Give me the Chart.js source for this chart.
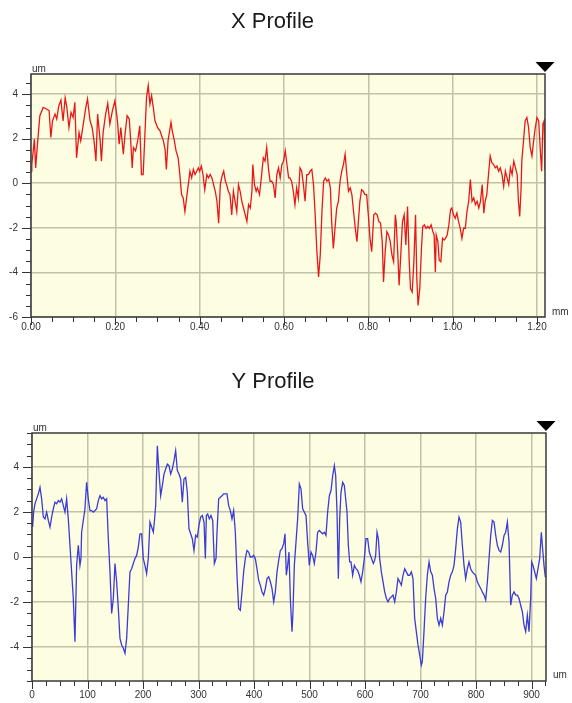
<!DOCTYPE html>
<html><head><meta charset="utf-8">
<script src="https://cdn.jsdelivr.net/npm/chart.js@4"></script>
<style>
html,body{margin:0;padding:0;background:#fff;width:572px;height:703px;overflow:hidden}
canvas{position:absolute;left:0}
#c1{top:0}
#c2{top:350px}
</style></head><body>
<canvas id="c1" width="572" height="350"></canvas>
<canvas id="c2" width="572" height="353"></canvas>
<script>
// ---------- titles & units ----------
const xChartTitle = 'X Profile';
const yChartTitle = 'Y Profile';
const xChartUnits = ['um', 'mm'];   // [vertical, horizontal]
const yChartUnits = ['um', 'um'];

// ---------- X profile (position in mm, height in um) ----------
const xProfileMm = [
0.000,0.002,0.008,0.011,0.016,0.021,0.029,0.037,0.043,0.047,
0.051,0.057,0.061,0.066,0.071,0.076,0.081,0.085,0.090,0.095,
0.100,0.104,0.108,0.114,0.118,0.124,0.130,0.134,0.140,0.145,
0.150,0.154,0.158,0.164,0.167,0.171,0.177,0.182,0.187,0.193,
0.199,0.205,0.209,0.213,0.219,0.223,0.228,0.233,0.237,0.240,
0.243,0.248,0.253,0.258,0.262,0.266,0.270,0.274,0.278,0.282,
0.286,0.290,0.294,0.300,0.306,0.310,0.314,0.318,0.321,0.325,
0.332,0.335,0.340,0.344,0.349,0.353,0.357,0.361,0.365,0.369,
0.373,0.377,0.381,0.385,0.389,0.393,0.397,0.400,0.404,0.408,
0.412,0.417,0.421,0.425,0.429,0.433,0.437,0.441,0.445,0.449,
0.453,0.457,0.461,0.464,0.468,0.472,0.476,0.480,0.484,0.488,
0.492,0.496,0.500,0.504,0.508,0.512,0.516,0.520,0.524,0.526,
0.530,0.534,0.537,0.542,0.547,0.551,0.555,0.559,0.563,0.567,
0.571,0.575,0.579,0.583,0.587,0.591,0.595,0.599,0.603,0.607,
0.611,0.614,0.618,0.622,0.626,0.630,0.634,0.638,0.642,0.646,
0.650,0.654,0.658,0.662,0.666,0.670,0.674,0.678,0.682,0.686,
0.690,0.694,0.698,0.702,0.706,0.710,0.713,0.717,0.721,0.725,
0.729,0.733,0.737,0.741,0.745,0.749,0.753,0.757,0.761,0.765,
0.769,0.773,0.777,0.780,0.784,0.788,0.792,0.796,0.800,0.804,
0.808,0.813,0.817,0.821,0.825,0.829,0.833,0.836,0.840,0.844,
0.848,0.852,0.856,0.860,0.864,0.866,0.870,0.873,0.877,0.881,
0.885,0.889,0.893,0.897,0.900,0.904,0.908,0.912,0.915,0.918,
0.922,0.926,0.929,0.933,0.937,0.941,0.945,0.949,0.953,0.956,
0.959,0.961,0.965,0.968,0.972,0.976,0.980,0.983,0.987,0.991,
0.995,0.998,1.002,1.006,1.010,1.014,1.018,1.022,1.026,1.030,
1.034,1.038,1.042,1.046,1.050,1.054,1.058,1.062,1.066,1.070,
1.074,1.077,1.081,1.085,1.089,1.093,1.097,1.101,1.105,1.109,
1.113,1.117,1.121,1.125,1.129,1.133,1.137,1.141,1.145,1.149,
1.153,1.156,1.159,1.162,1.164,1.168,1.172,1.176,1.180,1.184,
1.188,1.192,1.196,1.200,1.204,1.208,1.211,1.214,1.217,1.219
];
const xProfileUm = [
0.54,0.84,1.97,0.69,1.90,3.03,3.40,3.33,3.25,2.05,
2.80,3.10,2.88,3.48,3.73,2.80,3.83,3.40,2.50,3.18,
2.95,3.63,1.14,2.27,1.90,2.65,3.40,3.78,2.80,2.50,
1.82,0.99,3.10,1.90,0.99,2.27,3.10,3.58,2.65,3.25,
3.70,2.80,1.75,2.50,1.30,2.20,3.03,2.88,1.75,0.69,
1.60,1.45,1.90,2.58,0.39,0.39,2.12,3.86,4.38,3.55,
3.93,3.40,2.80,2.50,2.35,2.12,1.90,1.52,0.62,1.90,
2.73,2.35,1.90,1.45,1.14,0.39,-0.51,-0.66,-1.27,-0.66,
-0.06,0.54,0.24,0.62,0.39,0.54,0.69,0.54,0.77,0.39,
-0.29,0.39,0.24,0.39,0.24,-0.06,-0.36,-0.81,-1.79,-0.06,
0.32,0.54,0.09,-0.06,-0.36,-0.51,-1.42,-0.36,-0.81,-1.27,
-0.06,-0.36,-0.81,-1.11,-1.42,-1.72,-0.96,-1.11,-0.36,0.84,
-0.06,-0.36,-0.21,-0.51,0.39,1.14,0.99,1.60,0.69,0.09,
0.09,-0.06,-0.66,0.39,0.69,0.24,0.84,0.99,1.45,0.84,
0.24,0.24,0.09,-0.36,-0.96,-0.21,-0.66,0.69,0.54,-0.06,
-0.81,0.39,0.39,0.54,0.62,-0.06,-1.42,-3.07,-4.20,-3.22,
-1.27,0.09,0.24,0.09,0.17,-0.21,-1.72,-2.92,-2.02,-1.11,
-0.81,0.09,0.54,0.84,1.30,0.39,-0.36,-0.21,-0.51,-1.27,
-2.02,-2.62,-1.57,-0.81,-0.29,-0.36,-0.51,-0.51,-1.42,-2.47,
-3.07,-1.42,-1.34,-1.42,-1.72,-1.79,-2.62,-4.43,-3.07,-2.17,
-2.32,-2.62,-3.22,-3.52,-1.42,-1.72,-3.22,-4.58,-3.22,-1.72,
-1.42,-2.77,-1.04,-3.52,-4.73,-4.88,-3.52,-1.42,-4.28,-5.48,
-4.73,-2.92,-1.94,-1.87,-2.02,-1.94,-2.02,-1.87,-2.17,-2.32,
-3.98,-2.32,-2.62,-3.45,-3.52,-2.47,-2.55,-2.47,-2.32,-1.87,
-1.19,-1.11,-1.42,-1.57,-1.34,-1.72,-2.02,-2.47,-2.02,-2.02,
-1.27,-0.81,0.17,-0.81,-0.66,-0.96,-0.81,-1.11,-0.81,-0.06,
-1.34,-0.81,-0.51,0.39,1.22,0.92,0.84,0.69,0.77,0.54,
0.69,0.39,-0.14,0.54,0.24,-0.06,0.69,0.39,0.99,0.69,
0.39,-0.81,-1.49,-0.36,0.99,1.90,2.80,2.95,2.50,1.60,
1.22,1.90,2.50,2.95,2.80,1.45,0.54,2.65,2.80,0.60
];

// ---------- Y profile (position in um, height in um) ----------
const yProfilePos = [
0,1.1,2.9,5.3,8.3,11.4,14.4,17.4,20.4,23.4,
26.4,29.4,32.4,35.4,38.4,41.4,44.4,47.4,50.4,53.4,
56.4,59.4,62.4,65.4,68.4,71.4,74.4,77.4,80.4,83.4,
86.4,88.2,89.4,92.4,95.4,98.4,101.4,104.4,107.4,110.5,
113.5,116.5,119.5,122.5,125.5,128.5,131.5,134.5,137.5,140.5,
143.5,146.5,149.5,152.5,155.5,158.5,161.5,164.5,167.5,170.5,
173.5,176.5,179.5,182.5,185.5,188.5,191.5,194.5,197.5,200.5,
203.5,206.5,209.5,212.5,215.5,218.6,220.4,222.8,225.8,228.8,
231.8,234.8,237.8,240.8,243.8,246.8,249.8,252.8,255.8,258.8,
261.8,264.8,267.8,270.8,273.8,276.8,279.8,282.8,285.8,288.8,
291.8,294.8,297.8,300.8,303.8,306.8,309.9,312.3,314.1,316.5,
319.5,322.5,325.5,328.5,331.5,333.3,336.3,339.3,342.3,345.3,
348.3,351.3,354.3,357.3,360.3,363.3,366.3,369.3,372.3,375.3,
378.3,381.3,384.3,387.3,390.3,393.3,396.3,399.3,402.3,405.3,
408.3,411.3,414.4,417.4,420.4,423.4,426.4,429.4,432.4,435.4,
438.4,441.4,444.4,447.4,450.4,453.4,455.8,458.2,460.6,463.0,
465.4,468.4,470.2,472.6,475.6,478.6,481.6,484.6,487.6,490.6,
493.6,496.6,499.6,502.6,505.6,508.6,511.6,514.6,517.6,520.6,
523.6,526.6,529.6,532.6,535.7,538.7,541.7,544.7,547.1,549.5,
551.9,554.3,556.7,559.7,562.7,565.7,567.5,569.9,572.3,574.7,
577.7,580.7,583.7,586.7,589.7,592.7,595.7,598.7,601.7,604.7,
607.7,610.7,614.9,617.3,619.1,621.6,624.0,626.4,629.4,632.4,
635.4,638.4,641.4,644.4,647.4,650.4,653.4,656.4,659.4,662.4,
665.4,668.4,671.4,674.4,677.4,680.4,683.4,686.4,689.4,692.4,
695.4,698.4,701.4,703.2,706.2,709.2,712.2,715.3,718.3,721.3,
724.3,727.3,730.3,733.3,736.3,739.3,742.3,745.3,748.3,751.3,
754.3,757.3,760.3,763.3,766.3,769.3,772.3,775.3,778.3,781.3,
784.3,787.3,790.3,793.3,796.3,799.3,802.3,805.3,808.4,811.4,
814.4,817.4,820.4,823.4,826.4,829.4,832.4,835.4,838.4,841.4,
844.4,847.4,850.4,853.4,856.4,859.4,862.4,865.4,868.4,871.4,
874.4,877.4,880.4,883.4,886.4,889.4,892.4,895.4,898.4,900.2,
902.6,905.6,908.6,911.6,914.6,917.6,919.4,922.4,924.8
];
const yProfileUm = [
1.62,1.33,1.99,2.36,2.58,2.80,3.09,2.58,1.77,1.69,
1.99,1.62,1.33,1.77,2.14,2.43,2.36,2.50,2.43,2.58,
2.28,1.99,2.58,1.69,0.52,-0.66,-1.84,-3.76,-0.37,0.52,
-0.37,-0.07,1.10,1.62,2.14,3.31,2.58,2.06,2.06,1.99,
2.06,2.14,2.50,2.72,2.58,2.65,2.50,2.58,0.81,-0.66,
-2.50,-1.84,-0.29,-1.10,-2.28,-3.61,-3.90,-4.05,-4.27,-3.61,
-2.14,-0.66,-0.52,-0.29,-0.07,0.07,0.44,1.03,1.03,-0.07,
-0.37,-0.74,-0.07,1.55,1.33,1.10,1.55,2.28,4.93,3.76,
2.72,3.17,3.68,3.90,4.12,4.05,3.68,3.90,4.27,4.71,
3.83,3.68,3.46,2.43,3.46,3.53,2.87,1.25,1.03,0.81,
0.29,0.96,0.88,1.40,1.77,1.84,1.55,-0.07,1.84,1.91,
1.69,1.84,1.62,-0.29,-0.07,1.10,2.58,2.65,2.72,2.80,
2.80,2.80,2.28,2.06,1.69,2.06,1.10,-0.81,-2.28,-2.36,
-1.55,-0.66,-0.07,0.29,0.22,0.00,0.00,0.07,-0.07,-0.52,
-1.03,-1.25,-1.55,-1.69,-1.40,-0.96,-0.88,-1.10,-1.40,-1.99,
-1.55,-0.66,-0.15,0.29,0.37,0.59,1.03,-0.81,-0.37,0.22,
-1.84,-3.31,-2.43,-0.37,0.66,1.69,3.24,3.02,2.14,1.99,
1.84,0.66,-0.37,0.22,0.07,-0.29,0.22,1.10,1.18,1.10,
1.03,1.10,0.96,1.99,2.72,2.95,3.61,4.05,3.61,1.99,
-0.96,1.69,2.87,3.31,3.17,2.43,1.99,0.52,-0.22,-0.22,
-0.81,-0.37,-0.52,-0.59,-0.81,-1.10,-0.66,-0.07,0.81,0.81,
0.22,0.00,-0.29,-0.15,0.07,1.10,0.81,-0.07,-0.66,-1.10,
-1.55,-1.84,-1.99,-1.84,-1.77,-1.69,-1.99,-1.55,-0.96,-1.10,
-1.25,-0.81,-0.52,-0.66,-0.81,-0.81,-0.66,-0.96,-2.72,-3.31,
-3.90,-4.34,-4.79,-4.64,-3.31,-1.84,-0.81,-0.22,-0.66,-0.81,
-1.40,-1.84,-2.72,-3.02,-2.72,-3.02,-2.43,-1.69,-1.55,-1.10,
-0.81,-0.66,-0.37,0.37,1.25,1.77,1.55,0.52,-0.37,-0.96,
-0.52,-0.22,-0.52,-0.66,-0.74,-0.81,-1.10,-1.25,-1.40,-1.55,
-1.69,-1.91,-1.10,-0.07,0.96,1.62,1.55,0.96,0.52,0.29,
0.22,0.52,0.96,1.10,1.55,0.66,-2.14,-1.69,-1.55,-1.69,
-1.69,-1.84,-2.14,-2.43,-3.02,-3.31,-2.58,-3.31,-1.84,-0.22,
-0.37,-0.66,-0.96,-0.52,-0.07,1.10,0.52,-0.37,-0.90
];

// ---------- axis ranges / tick steps ----------
const xChartXRange = [0, 1.219];
const xChartYRange = [-6, 4.9];
const yChartXRange = [0, 926];
const yChartYRange = [-5.5, 5.5];

const FONT = "'Liberation Sans', Arial, sans-serif";
const GRID = '#c2c2a8';

function isMult(v, m) { const r = v / m; return Math.abs(r - Math.round(r)) < 1e-6; }

const framePlugin = {
  id: 'frame',
  beforeDraw(chart, args, o) {
    const { ctx, chartArea: a } = chart;
    ctx.save();
    ctx.fillStyle = o.bg;
    ctx.fillRect(a.left, a.top, a.right - a.left, a.bottom - a.top);
    ctx.restore();
  },
  afterDraw(chart, args, o) {
    const { ctx, chartArea: a } = chart;
    const xs = chart.scales.x, ys = chart.scales.y;
    ctx.save();
    ctx.strokeStyle = '#333';
    ctx.lineWidth = 1;
    xs.ticks.forEach(t => {
      const p = Math.round(xs.getPixelForValue(t.value)) + 0.5;
      const len = t.label ? 8 : 5;
      ctx.beginPath(); ctx.moveTo(p, a.bottom); ctx.lineTo(p, a.bottom + len); ctx.stroke();
    });
    ys.ticks.forEach(t => {
      const p = Math.round(ys.getPixelForValue(t.value)) + 0.5;
      const len = t.label ? 9 : 5;
      ctx.beginPath(); ctx.moveTo(a.left, p); ctx.lineTo(a.left - len, p); ctx.stroke();
    });
    ctx.strokeStyle = '#3a3a3a';
    ctx.lineWidth = 1.5;
    ctx.strokeRect(a.left, a.top, a.right - a.left, a.bottom - a.top);
    ctx.fillStyle = '#333';
    ctx.font = '10px ' + FONT;
    ctx.textAlign = 'left';
    ctx.textBaseline = 'alphabetic';
    ctx.fillText(o.units[0], a.left + 1, a.top - 2);
    ctx.fillText(o.units[1], a.right + 7, a.bottom - o.unitDrop);
    ctx.fillStyle = '#000';
    ctx.beginPath();
    ctx.moveTo(a.right - 9.5, a.top - 12);
    ctx.lineTo(a.right + 9.5, a.top - 12);
    ctx.lineTo(a.right, a.top - 2);
    ctx.closePath();
    ctx.fill();
    ctx.restore();
  }
};

function buildChart(id, c) {
  const el = document.getElementById(id);
  const H = el.height;
  return new Chart(el, {
    type: 'line',
    data: { datasets: [{
      data: c.xs.map((x, i) => ({ x: x, y: c.ys[i] })),
      borderColor: c.color, borderWidth: 1.3, pointRadius: 0, tension: 0, fill: false
    }]},
    options: {
      responsive: false, animation: false, devicePixelRatio: 1,
      layout: { padding: { left: 0, right: 572 - c.right, top: 0, bottom: 0 } },
      plugins: {
        legend: { display: false }, tooltip: { enabled: false },
        title: { display: true, text: c.title, color: '#1a1a1a',
          font: { family: FONT, size: 22, weight: 'normal' },
          padding: { top: c.titleTop, bottom: c.top - c.titleTop - 26.4 } },
        frame: { bg: '#fdfde2', units: c.units, unitDrop: c.unitDrop }
      },
      scales: {
        x: { type: 'linear', min: c.xRange[0], max: c.xRange[1],
          afterFit: s => { s.height = H - c.bottom; },
          border: { display: false },
          grid: { drawTicks: false, lineWidth: 1.5,
            color: g => (g.tick && g.tick.label) ? GRID : 'rgba(0,0,0,0)' },
          ticks: { stepSize: c.xStep, includeBounds: false, autoSkip: false, maxRotation: 0, minRotation: 0,
            padding: c.xPad, color: '#333', font: { family: FONT, size: 10 },
            callback: v => isMult(v, c.xMajor) ? c.xFmt(v) : '' } },
        y: { type: 'linear', min: c.yRange[0], max: c.yRange[1],
          afterFit: s => { s.width = c.left; },
          border: { display: false },
          grid: { drawTicks: false, lineWidth: 1.5,
            color: g => (g.tick && g.tick.label) ? GRID : 'rgba(0,0,0,0)' },
          ticks: { stepSize: 0.5, includeBounds: false, autoSkip: false,
            padding: 13, color: '#333', font: { family: FONT, size: 10 },
            callback: v => isMult(v, 2) ? String(Math.round(v)) : '' } }
      }
    },
    plugins: [framePlugin]
  });
}

buildChart('c1', {
  xs: xProfileMm, ys: xProfileUm, color: '#e81818', title: xChartTitle, units: xChartUnits,
  xRange: xChartXRange, yRange: xChartYRange, xStep: 0.05, xMajor: 0.2, xFmt: v => v.toFixed(2),
  left: 31, right: 545, top: 74, bottom: 317, titleTop: 9, xPad: 4, unitDrop: 2
});
buildChart('c2', {
  xs: yProfilePos, ys: yProfileUm, color: '#3b3bd8', title: yChartTitle, units: yChartUnits,
  xRange: yChartXRange, yRange: yChartYRange, xStep: 25, xMajor: 100, xFmt: v => String(Math.round(v)),
  left: 32, right: 546, top: 83, bottom: 331, titleTop: 19, xPad: 8, unitDrop: 3
});
</script>
</body></html>
